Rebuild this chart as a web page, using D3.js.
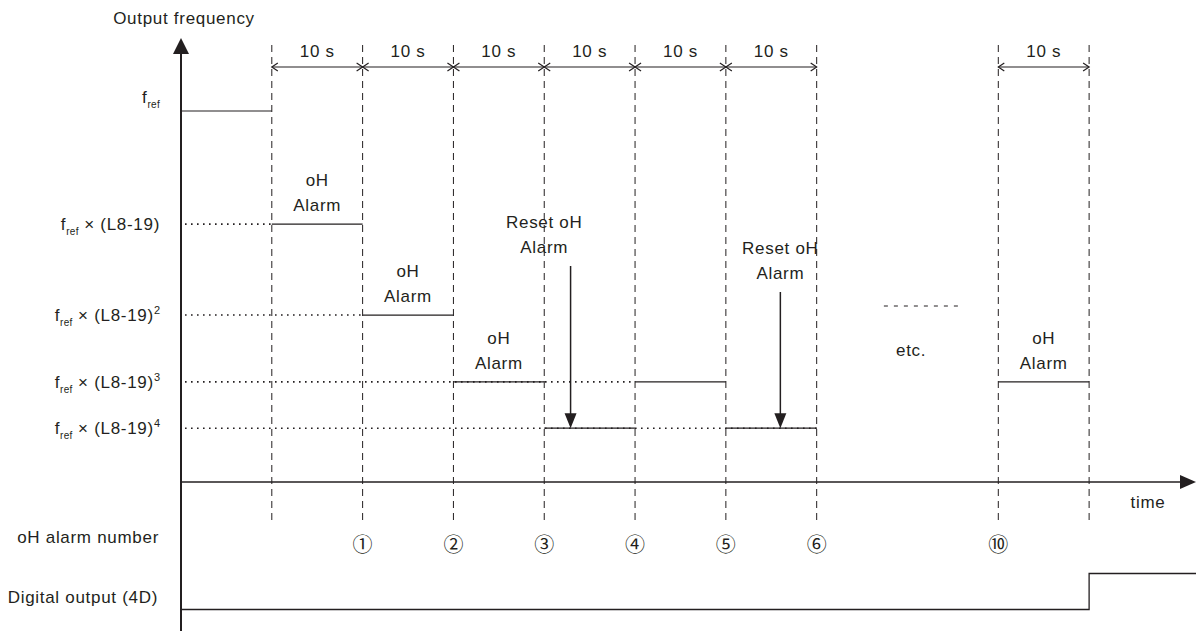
<!DOCTYPE html>
<html>
<head>
<meta charset="utf-8">
<script src="https://cdn.jsdelivr.net/npm/d3@7"></script>
<style>
  html, body { margin: 0; padding: 0; background: #fff; }
  svg { display: block; }
  text { font-family: "Liberation Sans", Arial, sans-serif; fill: #231f20; letter-spacing: 0.7px; }
</style>
</head>
<body>
<svg id="chart" width="1196" height="631"></svg>
<script>
// ---------------- data ----------------
const dashedTimes = [1, 2, 3, 4, 5, 6, 7, 9, 10];
const intervalStarts = [1, 2, 3, 4, 5, 6, 9];
const intervalEnds   = [2, 3, 4, 5, 6, 7, 10];
const intervalLabel = "10 s";

const levelValues = [1.0, 0.695, 0.45, 0.27, 0.145];
const levelTails  = ["", " × (L8-19)", " × (L8-19)", " × (L8-19)", " × (L8-19)"];
const levelSups   = ["", "", "2", "3", "4"];
const dottedEnds  = [0, 1, 2, 5, 7];

const stepStart = [0, 1, 2, 3, 4, 5, 6, 9];
const stepEnd   = [1, 2, 3, 4, 5, 6, 7, 10];
const stepLevel = [0, 1, 2, 3, 4, 3, 4, 3];

const alarmSegIdx = [1, 2, 3, 7];         // segments labelled "oH Alarm"
const resetTextT  = [4.0, 6.6];
const resetArrowT = [4.29, 6.6];

const alarmNumbers  = ["①", "②", "③", "④", "⑤", "⑥", "⑩"];
const alarmNumberT  = [2, 3, 4, 5, 6, 7, 9];

const doTimes  = [0, 10, 11.2];
const doValues = [0, 1, 1];

// ---------------- layout ----------------
const svg = d3.select("#chart");
const ink = "#231f20";
const FS = 17;
const x = d3.scaleLinear().domain([0, 11.166]).range([181, 1195]);
const y = d3.scaleLinear().domain([0, 1]).range([482, 111]);
const yDO = d3.scaleLinear().domain([0, 1]).range([609.5, 573.5]);

// dashed vertical lines
svg.append("g").selectAll("line").data(dashedTimes).join("line")
  .attr("x1", d => x(d)).attr("x2", d => x(d))
  .attr("y1", 45).attr("y2", 525)
  .attr("stroke", ink).attr("stroke-width", 1)
  .attr("stroke-dasharray", "7,5");

// dotted reference levels
svg.append("g").selectAll("line").data(levelValues.map((v, i) => i).filter(i => i > 0)).join("line")
  .attr("x1", x(0) + 4).attr("x2", i => x(dottedEnds[i]))
  .attr("y1", i => y(levelValues[i])).attr("y2", i => y(levelValues[i]))
  .attr("stroke", ink).attr("stroke-width", 1.6)
  .attr("stroke-dasharray", "1.6,4.4");

// output frequency steps
svg.append("g").selectAll("line").data(stepStart.map((s, i) => i)).join("line")
  .attr("x1", i => x(stepStart[i])).attr("x2", i => x(stepEnd[i]))
  .attr("y1", i => y(levelValues[stepLevel[i]])).attr("y2", i => y(levelValues[stepLevel[i]]))
  .attr("stroke", ink).attr("stroke-width", 1.2);

// level labels
const lbl = svg.append("g").selectAll("text").data(levelValues.map((v, i) => i)).join("text")
  .attr("x", 160)
  .attr("y", i => i === 0 ? y(levelValues[i]) - 8 : y(levelValues[i]) + 6)
  .attr("text-anchor", "end")
  .attr("font-size", FS);
lbl.append("tspan").text("f");
lbl.append("tspan").attr("font-size", 10).style("letter-spacing", "0.3px").attr("dy", 5).text("ref");
lbl.append("tspan").attr("dy", -5).text(i => levelTails[i]);
lbl.filter(i => levelSups[i] !== "").append("tspan").attr("font-size", 11).style("letter-spacing", "0px").attr("dy", -7).text(i => levelSups[i]);

// 10 s interval arrows
const ia = svg.append("g");
intervalStarts.forEach((s, i) => {
  const x0 = x(s), x1 = x(intervalEnds[i]), yy = 67;
  ia.append("line").attr("x1", x0).attr("x2", x1).attr("y1", yy).attr("y2", yy)
    .attr("stroke", ink).attr("stroke-width", 1.2);
  ia.append("path").attr("d", `M${x0 + 6},${yy - 4} L${x0},${yy} L${x0 + 6},${yy + 4}`)
    .attr("fill", "none").attr("stroke", ink).attr("stroke-width", 1.2);
  ia.append("path").attr("d", `M${x1 - 6},${yy - 4} L${x1},${yy} L${x1 - 6},${yy + 4}`)
    .attr("fill", "none").attr("stroke", ink).attr("stroke-width", 1.2);
  ia.append("text").attr("x", (x0 + x1) / 2).attr("y", 57).attr("text-anchor", "middle")
    .attr("font-size", FS).text(intervalLabel);
});

// oH Alarm labels
const al = svg.append("g");
alarmSegIdx.forEach(si => {
  const cx = (x(stepStart[si]) + x(stepEnd[si])) / 2;
  const ly = y(levelValues[stepLevel[si]]);
  al.append("text").attr("x", cx).attr("y", ly - 38).attr("text-anchor", "middle").attr("font-size", FS).text("oH");
  al.append("text").attr("x", cx).attr("y", ly - 13).attr("text-anchor", "middle").attr("font-size", FS).text("Alarm");
});

// Reset oH Alarm labels and arrows
const resetTextY = [228, 254];
const resetArrowTop = [266, 292];
resetTextT.forEach((t, i) => {
  al.append("text").attr("x", x(t)).attr("y", resetTextY[i]).attr("text-anchor", "middle").attr("font-size", FS).text("Reset oH");
  al.append("text").attr("x", x(t)).attr("y", resetTextY[i] + 25).attr("text-anchor", "middle").attr("font-size", FS).text("Alarm");
  const ax = x(resetArrowT[i]);
  const tip = y(levelValues[4]);
  al.append("line").attr("x1", ax).attr("x2", ax).attr("y1", resetArrowTop[i]).attr("y2", tip - 12)
    .attr("stroke", ink).attr("stroke-width", 1.5);
  al.append("path").attr("d", `M${ax - 6},${tip - 15} L${ax + 6},${tip - 15} L${ax},${tip} Z`).attr("fill", ink);
});

// etc.
al.append("line").attr("x1", x(7.74)).attr("x2", x(8.6)).attr("y1", 306).attr("y2", 306)
  .attr("stroke", ink).attr("stroke-width", 1).attr("stroke-dasharray", "4,6");
al.append("text").attr("x", x(8.04)).attr("y", 356).attr("text-anchor", "middle").attr("font-size", FS).text("etc.");

// axes
const ax = svg.append("g");
ax.append("line").attr("x1", x(0)).attr("x2", x(0)).attr("y1", 50).attr("y2", 632)
  .attr("stroke", ink).attr("stroke-width", 2);
ax.append("path").attr("d", `M${x(0) - 8},54 L${x(0) + 8},54 L${x(0)},38 Z`).attr("fill", ink);
ax.append("line").attr("x1", x(0)).attr("x2", 1182).attr("y1", y(0)).attr("y2", y(0))
  .attr("stroke", ink).attr("stroke-width", 1.3);
ax.append("path").attr("d", `M1180,${y(0) - 7} L1180,${y(0) + 7} L1196,${y(0)} Z`).attr("fill", ink);

ax.append("text").attr("x", 184).attr("y", 24).attr("text-anchor", "middle").attr("font-size", FS).text("Output frequency");
ax.append("text").attr("x", 1148).attr("y", 508).attr("text-anchor", "middle").attr("font-size", FS).text("time");
ax.append("text").attr("x", 159).attr("y", 543).attr("text-anchor", "end").attr("font-size", FS).text("oH alarm number");
ax.append("text").attr("x", 158).attr("y", 603).attr("text-anchor", "end").attr("font-size", FS).text("Digital output (4D)");

// alarm numbers
svg.append("g").selectAll("text").data(alarmNumbers).join("text")
  .attr("x", (d, i) => x(alarmNumberT[i])).attr("y", 552)
  .attr("text-anchor", "middle").attr("font-size", 20)
  .style("letter-spacing", "0px")
  .style("font-family", "'Noto Sans CJK JP', 'DejaVu Sans', sans-serif")
  .text(d => d);

// digital output
const doLine = d3.line().x((d, i) => x(doTimes[i])).y((d, i) => yDO(doValues[i])).curve(d3.curveStepAfter);
svg.append("path").datum(doValues).attr("d", doLine)
  .attr("fill", "none").attr("stroke", ink).attr("stroke-width", 1.3);
</script>
</body>
</html>
